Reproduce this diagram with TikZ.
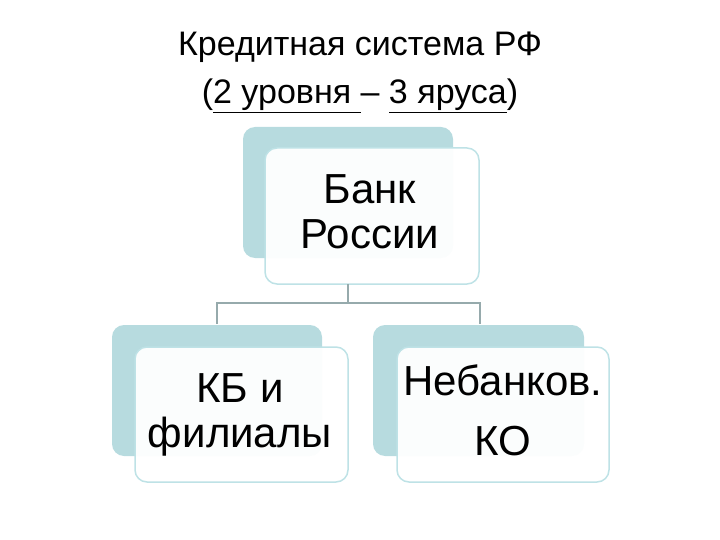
\documentclass[tikz,border=0pt]{standalone}
\usepackage{fontspec}
\setmainfont{Liberation Sans}
\definecolor{backc}{RGB}{183,219,223}
\definecolor{edgec}{RGB}{190,226,230}
\definecolor{linec}{RGB}{150,170,172}
\begin{document}
\begin{tikzpicture}[x=1pt,y=-1pt,
  backbox/.style={fill=backc,draw=none,rounded corners=12pt},
  frontbox/.style={fill=white,fill opacity=0.95,draw=edgec,line width=1.5pt,rounded corners=12pt},
  lbl/.style={font=\fontsize{42}{45}\selectfont,align=center,text opacity=1},
  conn/.style={draw=linec,line width=1.2pt}]
\useasboundingbox (0,0) rectangle (720,540);
\node[font=\fontsize{34}{48}\selectfont,align=center] (title) at (360,72)
  {Кредитная система РФ\\(\underline{2 уровня }– \underline{3 яруса})};
% top
\filldraw[backbox] (243,127) rectangle (453,258);
\filldraw[frontbox] (265,148) rectangle (479,284);
\node[lbl] (top) at (370,212) {Банк\\России};
% left
\filldraw[backbox] (112,325) rectangle (322,456);
\filldraw[frontbox] (135,347) rectangle (348,482);
\node[lbl] (left) at (240,415) {КБ и\\филиалы};
% right
\filldraw[backbox] (373,325) rectangle (584,456);
\filldraw[frontbox] (397,347) rectangle (609,482);
\node[lbl,font=\fontsize{42}{60}\selectfont] (right) at (503,410) {Небанков.\\КО};
\coordinate (a) at (348,284);
\coordinate (b) at (348,303);
\coordinate (c) at (217,303);
\coordinate (d) at (480,303);
\coordinate (e) at (217,324);
\coordinate (f) at (480,324);
\draw[conn] (a) -- (b);
\draw[conn] (e) -- (c) -- (d) -- (f);
\end{tikzpicture}
\end{document}
